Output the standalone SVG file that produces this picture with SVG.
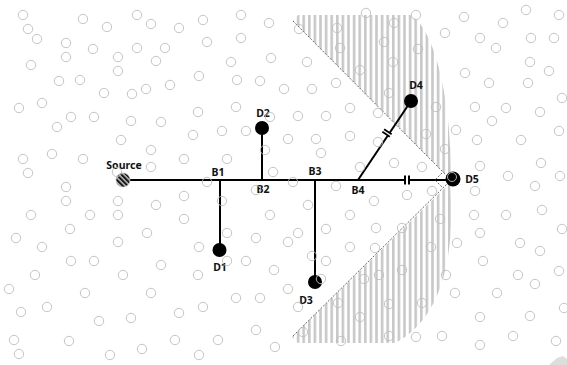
<svg xmlns="http://www.w3.org/2000/svg" width="567" height="365" viewBox="0 0 567 365">
<defs>
<pattern id="stripes" patternUnits="userSpaceOnUse" width="5.6" height="10">
<rect x="0" y="0" width="2.6" height="10" fill="#c8c8c8"/>
</pattern>
<pattern id="hatch" patternUnits="userSpaceOnUse" width="3.5" height="3.5" patternTransform="rotate(-45)">
<rect x="0" y="0" width="3.5" height="3.5" fill="#aaa"/>
<rect x="0" y="0" width="1.8" height="3.5" fill="#111"/>
</pattern>
<style>
.bg{fill:none;stroke:#bdbdbd;stroke-width:0.9}
.lbl{font-family:"Noto Sans","Open Sans","DejaVu Sans",sans-serif;font-weight:bold;font-size:10.5px;fill:#111;text-anchor:middle}
.wire{stroke:#000;stroke-width:2;fill:none}
.dash{stroke:#444;stroke-width:0.8;stroke-dasharray:2 1.5;fill:none}
.dev{fill:#000}
</style>
</defs>
<rect width="567" height="365" fill="#fff"/>
<g id="zones">
<path d="M293,21 L298,15 L410,15 C430,25 450,80 451,176 L449,178 Z" fill="url(#stripes)"/>
<path d="M450,183 C456,260 440,320 395,343 L298,343 L292,337 Z" fill="url(#stripes)"/>
<polygon points="549,365 557,358 563,356 567,359 567,365" fill="#ddd"/>
</g>
<g id="connectors">
<line class="wire" x1="123" y1="180" x2="453" y2="180"/>
<line class="wire" x1="220" y1="180" x2="220" y2="250"/>
<line class="wire" x1="262" y1="180" x2="262" y2="128"/>
<line class="wire" x1="315" y1="180" x2="315" y2="282"/>
<line class="wire" x1="358" y1="180" x2="411" y2="101" stroke-width="1.8"/>
<rect x="405.5" y="176" width="3" height="8" fill="#fff"/>
<rect x="404" y="175.5" width="2" height="9" fill="#000"/>
<rect x="408" y="175.5" width="2" height="9" fill="#000"/>
<g transform="translate(387,133) rotate(34)">
<rect x="-3.5" y="-2" width="7" height="4" fill="#fff"/>
<rect x="-4.5" y="-2.5" width="9" height="1.8" fill="#000"/>
<rect x="-4.5" y="0.7" width="9" height="1.8" fill="#000"/>
</g>
<line class="dash" x1="293" y1="21" x2="449" y2="178"/>
<line class="dash" x1="449" y1="182" x2="292" y2="337"/>
<polyline class="dash" points="442,173 435,180 442,187"/>
</g>
<g id="Source">
<circle cx="123" cy="180" r="7" fill="url(#hatch)" stroke="#bbb" stroke-width="0.6"/>
<text class="lbl" x="124" y="169">Source</text>
</g>
<g id="B1"><text class="lbl" x="218" y="176">B1</text></g>
<g id="B2"><text class="lbl" x="263" y="193">B2</text></g>
<g id="B3"><text class="lbl" x="315" y="175">B3</text></g>
<g id="B4"><text class="lbl" x="358" y="194">B4</text></g>
<g id="D1"><circle class="dev" cx="219.5" cy="250" r="7"/><text class="lbl" x="220" y="271">D1</text></g>
<g id="D2"><circle class="dev" cx="262" cy="128" r="7"/><text class="lbl" x="263" y="117">D2</text></g>
<g id="D3"><circle class="dev" cx="315" cy="282" r="7"/><text class="lbl" x="306" y="304">D3</text></g>
<g id="D4"><circle class="dev" cx="411" cy="101" r="7"/><text class="lbl" x="416" y="89">D4</text></g>
<g id="D5"><circle class="dev" cx="453" cy="179" r="7.5"/><text class="lbl" x="472" y="183">D5</text></g>
<g id="dots">
<circle class="bg" cx="23" cy="15" r="4.7"/><circle class="bg" cx="83" cy="19" r="4.7"/><circle class="bg" cx="137" cy="15" r="4.7"/><circle class="bg" cx="151" cy="24" r="4.7"/><circle class="bg" cx="107" cy="27" r="4.7"/><circle class="bg" cx="179" cy="28" r="4.7"/><circle class="bg" cx="203" cy="20" r="4.7"/><circle class="bg" cx="241" cy="15" r="4.7"/><circle class="bg" cx="269" cy="23" r="4.7"/><circle class="bg" cx="28" cy="29" r="4.7"/><circle class="bg" cx="37" cy="39" r="4.7"/><circle class="bg" cx="66" cy="43" r="4.7"/><circle class="bg" cx="93" cy="49" r="4.7"/><circle class="bg" cx="137" cy="48" r="4.7"/><circle class="bg" cx="165" cy="48" r="4.7"/><circle class="bg" cx="207" cy="42" r="4.7"/><circle class="bg" cx="241" cy="38" r="4.7"/><circle class="bg" cx="66" cy="57" r="4.7"/><circle class="bg" cx="118" cy="57" r="4.7"/><circle class="bg" cx="156" cy="61" r="4.7"/><circle class="bg" cx="231" cy="62" r="4.7"/><circle class="bg" cx="271" cy="58" r="4.7"/><circle class="bg" cx="31" cy="65" r="4.7"/><circle class="bg" cx="118" cy="71" r="4.7"/><circle class="bg" cx="199" cy="76" r="4.7"/><circle class="bg" cx="59" cy="81" r="4.7"/><circle class="bg" cx="80" cy="80" r="4.7"/><circle class="bg" cx="237" cy="80" r="4.7"/><circle class="bg" cx="260" cy="81" r="4.7"/><circle class="bg" cx="284" cy="89" r="4.7"/><circle class="bg" cx="104" cy="93" r="4.7"/><circle class="bg" cx="132" cy="94" r="4.7"/><circle class="bg" cx="146" cy="89" r="4.7"/><circle class="bg" cx="170" cy="85" r="4.7"/><circle class="bg" cx="19" cy="108" r="4.7"/><circle class="bg" cx="42" cy="103" r="4.7"/><circle class="bg" cx="71" cy="117" r="4.7"/><circle class="bg" cx="94" cy="117" r="4.7"/><circle class="bg" cx="57" cy="127" r="4.7"/><circle class="bg" cx="131" cy="121" r="4.7"/><circle class="bg" cx="161" cy="122" r="4.7"/><circle class="bg" cx="198" cy="112" r="4.7"/><circle class="bg" cx="236" cy="107" r="4.7"/><circle class="bg" cx="270" cy="117" r="4.7"/><circle class="bg" cx="193" cy="135" r="4.7"/><circle class="bg" cx="222" cy="131" r="4.7"/><circle class="bg" cx="246" cy="131" r="4.7"/><circle class="bg" cx="121" cy="140" r="4.7"/><circle class="bg" cx="151" cy="150" r="4.7"/><circle class="bg" cx="265" cy="150" r="4.7"/><circle class="bg" cx="23" cy="159" r="4.7"/><circle class="bg" cx="52" cy="154" r="4.7"/><circle class="bg" cx="83" cy="159" r="4.7"/><circle class="bg" cx="184" cy="159" r="4.7"/><circle class="bg" cx="227" cy="159" r="4.7"/><circle class="bg" cx="28" cy="173" r="4.7"/><circle class="bg" cx="151" cy="167" r="4.7"/><circle class="bg" cx="117" cy="172" r="4.7"/><circle class="bg" cx="207" cy="182" r="4.7"/><circle class="bg" cx="273" cy="172" r="4.7"/>
<circle class="bg" cx="299" cy="29" r="4.7"/><circle class="bg" cx="337" cy="28" r="4.7"/><circle class="bg" cx="366" cy="13" r="4.7"/><circle class="bg" cx="394" cy="23" r="4.7"/><circle class="bg" cx="416" cy="15" r="4.7"/><circle class="bg" cx="464" cy="17" r="4.7"/><circle class="bg" cx="503" cy="23" r="4.7"/><circle class="bg" cx="526" cy="10" r="4.7"/><circle class="bg" cx="559" cy="15" r="4.7"/><circle class="bg" cx="445" cy="33" r="4.7"/><circle class="bg" cx="480" cy="38" r="4.7"/><circle class="bg" cx="496" cy="48" r="4.7"/><circle class="bg" cx="531" cy="38" r="4.7"/><circle class="bg" cx="554" cy="38" r="4.7"/><circle class="bg" cx="340" cy="48" r="4.7"/><circle class="bg" cx="384" cy="42" r="4.7"/><circle class="bg" cx="418" cy="49" r="4.7"/><circle class="bg" cx="307" cy="62" r="4.7"/><circle class="bg" cx="393" cy="62" r="4.7"/><circle class="bg" cx="530" cy="62" r="4.7"/><circle class="bg" cx="549" cy="71" r="4.7"/><circle class="bg" cx="360" cy="70" r="4.7"/><circle class="bg" cx="465" cy="73" r="4.7"/><circle class="bg" cx="336" cy="83" r="4.7"/><circle class="bg" cx="312" cy="89" r="4.7"/><circle class="bg" cx="489" cy="83" r="4.7"/><circle class="bg" cx="528" cy="83" r="4.7"/><circle class="bg" cx="389" cy="93" r="4.7"/><circle class="bg" cx="436" cy="107" r="4.7"/><circle class="bg" cx="475" cy="107" r="4.7"/><circle class="bg" cx="506" cy="108" r="4.7"/><circle class="bg" cx="540" cy="112" r="4.7"/><circle class="bg" cx="562" cy="98" r="4.7"/><circle class="bg" cx="350" cy="108" r="4.7"/><circle class="bg" cx="378" cy="113" r="4.7"/><circle class="bg" cx="298" cy="116" r="4.7"/><circle class="bg" cx="326" cy="116" r="4.7"/><circle class="bg" cx="492" cy="121" r="4.7"/><circle class="bg" cx="456" cy="130" r="4.7"/><circle class="bg" cx="426" cy="134" r="4.7"/><circle class="bg" cx="350" cy="136" r="4.7"/><circle class="bg" cx="288" cy="139" r="4.7"/><circle class="bg" cx="316" cy="139" r="4.7"/><circle class="bg" cx="378" cy="142" r="4.7"/><circle class="bg" cx="477" cy="140" r="4.7"/><circle class="bg" cx="521" cy="140" r="4.7"/><circle class="bg" cx="559" cy="131" r="4.7"/><circle class="bg" cx="445" cy="149" r="4.7"/><circle class="bg" cx="321" cy="153" r="4.7"/><circle class="bg" cx="394" cy="163" r="4.7"/><circle class="bg" cx="360" cy="167" r="4.7"/><circle class="bg" cx="422" cy="167" r="4.7"/><circle class="bg" cx="480" cy="166" r="4.7"/><circle class="bg" cx="541" cy="163" r="4.7"/><circle class="bg" cx="508" cy="176" r="4.7"/><circle class="bg" cx="560" cy="176" r="4.7"/><circle class="bg" cx="293" cy="182" r="4.7"/><circle class="bg" cx="452" cy="177" r="4.5"/>
<circle class="bg" cx="66" cy="187" r="4.7"/><circle class="bg" cx="66" cy="201" r="4.7"/><circle class="bg" cx="118" cy="201" r="4.7"/><circle class="bg" cx="156" cy="205" r="4.7"/><circle class="bg" cx="184" cy="196" r="4.7"/><circle class="bg" cx="222" cy="201" r="4.7"/><circle class="bg" cx="31" cy="215" r="4.7"/><circle class="bg" cx="90" cy="215" r="4.7"/><circle class="bg" cx="118" cy="215" r="4.7"/><circle class="bg" cx="184" cy="219" r="4.7"/><circle class="bg" cx="270" cy="215" r="4.7"/><circle class="bg" cx="70" cy="229" r="4.7"/><circle class="bg" cx="147" cy="233" r="4.7"/><circle class="bg" cx="227" cy="233" r="4.7"/><circle class="bg" cx="256" cy="238" r="4.7"/><circle class="bg" cx="16" cy="238" r="4.7"/><circle class="bg" cx="42" cy="247" r="4.7"/><circle class="bg" cx="118" cy="242" r="4.7"/><circle class="bg" cx="199" cy="247" r="4.7"/><circle class="bg" cx="71" cy="261" r="4.7"/><circle class="bg" cx="94" cy="261" r="4.7"/><circle class="bg" cx="161" cy="265" r="4.7"/><circle class="bg" cx="227" cy="261" r="4.7"/><circle class="bg" cx="246" cy="261" r="4.7"/><circle class="bg" cx="35" cy="275" r="4.7"/><circle class="bg" cx="123" cy="275" r="4.7"/><circle class="bg" cx="198" cy="275" r="4.7"/><circle class="bg" cx="274" cy="270" r="4.7"/><circle class="bg" cx="9" cy="289" r="4.7"/><circle class="bg" cx="85" cy="293" r="4.7"/><circle class="bg" cx="151" cy="293" r="4.7"/><circle class="bg" cx="236" cy="298" r="4.7"/><circle class="bg" cx="260" cy="298" r="4.7"/><circle class="bg" cx="21" cy="312" r="4.7"/><circle class="bg" cx="47" cy="307" r="4.7"/><circle class="bg" cx="99" cy="321" r="4.7"/><circle class="bg" cx="131" cy="318" r="4.7"/><circle class="bg" cx="179" cy="313" r="4.7"/><circle class="bg" cx="203" cy="307" r="4.7"/><circle class="bg" cx="256" cy="330" r="4.7"/><circle class="bg" cx="14" cy="340" r="4.7"/><circle class="bg" cx="69" cy="341" r="4.7"/><circle class="bg" cx="175" cy="340" r="4.7"/><circle class="bg" cx="218" cy="340" r="4.7"/><circle class="bg" cx="275" cy="347" r="4.7"/><circle class="bg" cx="19" cy="354" r="4.7"/><circle class="bg" cx="110" cy="355" r="4.7"/><circle class="bg" cx="142" cy="349" r="4.7"/><circle class="bg" cx="199" cy="355" r="4.7"/><circle class="bg" cx="256" cy="190" r="4.7"/>
<circle class="bg" cx="336" cy="186" r="4.7"/><circle class="bg" cx="432" cy="191" r="4.7"/><circle class="bg" cx="407" cy="195" r="4.7"/><circle class="bg" cx="475" cy="191" r="4.7"/><circle class="bg" cx="535" cy="186" r="4.7"/><circle class="bg" cx="374" cy="201" r="4.7"/><circle class="bg" cx="308" cy="205" r="4.7"/><circle class="bg" cx="350" cy="215" r="4.7"/><circle class="bg" cx="474" cy="215" r="4.7"/><circle class="bg" cx="506" cy="215" r="4.7"/><circle class="bg" cx="542" cy="210" r="4.7"/><circle class="bg" cx="440" cy="219" r="4.7"/><circle class="bg" cx="298" cy="233" r="4.7"/><circle class="bg" cx="288" cy="242" r="4.7"/><circle class="bg" cx="326" cy="229" r="4.7"/><circle class="bg" cx="376" cy="228" r="4.7"/><circle class="bg" cx="402" cy="228" r="4.7"/><circle class="bg" cx="480" cy="233" r="4.7"/><circle class="bg" cx="562" cy="229" r="4.7"/><circle class="bg" cx="350" cy="247" r="4.7"/><circle class="bg" cx="375" cy="248" r="4.7"/><circle class="bg" cx="431" cy="247" r="4.7"/><circle class="bg" cx="457" cy="243" r="4.7"/><circle class="bg" cx="520" cy="243" r="4.7"/><circle class="bg" cx="540" cy="251" r="4.7"/><circle class="bg" cx="312" cy="256" r="4.7"/><circle class="bg" cx="326" cy="261" r="4.7"/><circle class="bg" cx="483" cy="261" r="4.7"/><circle class="bg" cx="402" cy="270" r="4.7"/><circle class="bg" cx="379" cy="275" r="4.7"/><circle class="bg" cx="364" cy="279" r="4.7"/><circle class="bg" cx="446" cy="275" r="4.7"/><circle class="bg" cx="518" cy="275" r="4.7"/><circle class="bg" cx="535" cy="284" r="4.7"/><circle class="bg" cx="559" cy="271" r="4.7"/><circle class="bg" cx="321" cy="279" r="4.7"/><circle class="bg" cx="288" cy="289" r="4.7"/><circle class="bg" cx="455" cy="293" r="4.7"/><circle class="bg" cx="497" cy="293" r="4.7"/><circle class="bg" cx="338" cy="303" r="4.7"/><circle class="bg" cx="389" cy="304" r="4.7"/><circle class="bg" cx="422" cy="303" r="4.7"/><circle class="bg" cx="298" cy="307" r="4.7"/><circle class="bg" cx="564" cy="308" r="4.7"/><circle class="bg" cx="360" cy="317" r="4.7"/><circle class="bg" cx="480" cy="317" r="4.7"/><circle class="bg" cx="530" cy="316" r="4.7"/><circle class="bg" cx="303" cy="332" r="4.7"/><circle class="bg" cx="341" cy="341" r="4.7"/><circle class="bg" cx="389" cy="336" r="4.7"/><circle class="bg" cx="416" cy="337" r="4.7"/><circle class="bg" cx="442" cy="336" r="4.7"/><circle class="bg" cx="480" cy="345" r="4.7"/><circle class="bg" cx="513" cy="336" r="4.7"/><circle class="bg" cx="556" cy="341" r="4.7"/>
</g>
</svg>
